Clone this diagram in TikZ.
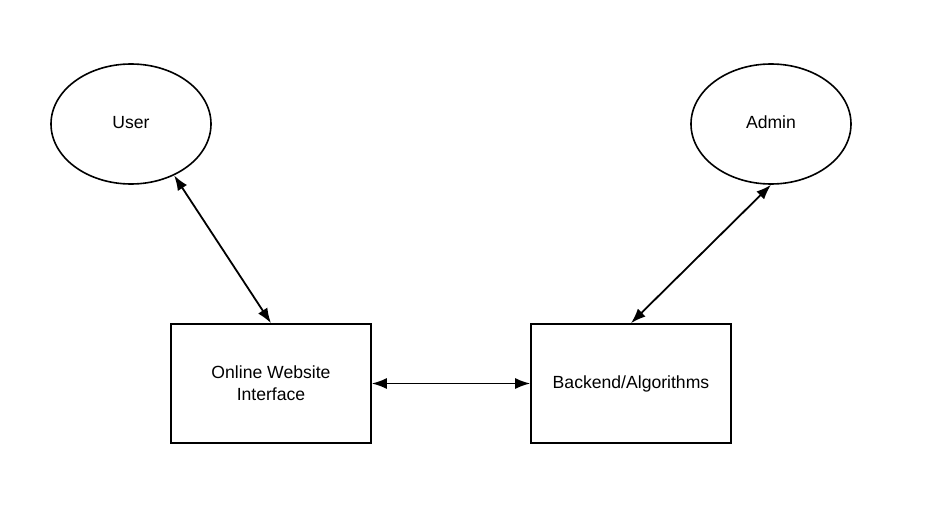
\documentclass[tikz,border=0pt]{standalone}
\usepackage{fontspec}
\setmainfont{Liberation Sans}
\usetikzlibrary{arrows.meta,shapes.geometric}
\begin{document}
\begin{tikzpicture}[x=1pt, y=-1pt,
  actor/.style={ellipse, draw, line width=1.6pt, minimum width=160pt, minimum height=120pt, inner sep=0pt, text depth=4pt},
  block/.style={rectangle, draw, line width=1.6pt, minimum width=200pt, minimum height=119pt, align=center},
  link/.style={{Latex[length=15pt,width=11pt]}-{Latex[length=15pt,width=11pt]}, line width=1.8pt},
  every node/.style={font=\fontsize{17.6}{22}\selectfont}]
 \useasboundingbox (0,0) rectangle (938,519);
 \draw node[actor] (User) at (131,124) {User};
 \draw node[actor] (Admin) at (771,124) {Admin};
 \draw node[block] (Web) at (271,383.5) {Online Website\\Interface};
 \draw node[block] (Backend) at (631,383.5) {Backend/Algorithms};

 \draw[link] (User.-50) -- (Web.north);
 \draw[link] (Admin.south) -- (Backend.north);
 \draw[link] (Web.east) -- (Backend.west);
\end{tikzpicture}
\end{document}
